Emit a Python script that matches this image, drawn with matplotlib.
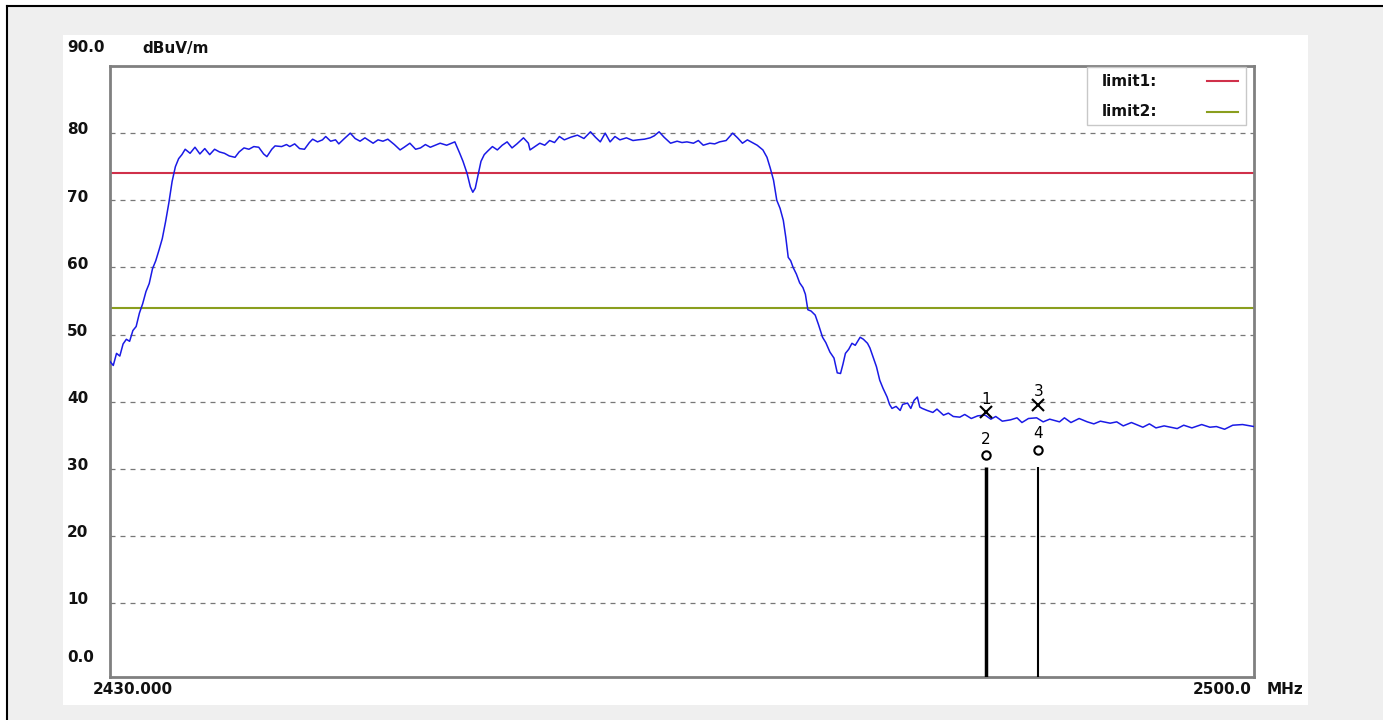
import numpy as np
import matplotlib.pyplot as plt
from matplotlib.patches import Rectangle
from matplotlib.lines import Line2D


W, H = 1383, 720

# trace (MHz, dBuV/m)
FREQ = [
    2430.0, 2430.2, 2430.4, 2430.6, 2430.8, 2431.0, 2431.2, 2431.4, 2431.6, 2431.8,
    2432.0, 2432.2, 2432.4, 2432.6, 2432.8, 2433.0, 2433.2, 2433.4, 2433.6, 2433.8,
    2434.0, 2434.2, 2434.4, 2434.6, 2434.9, 2435.2, 2435.5, 2435.8, 2436.1, 2436.4,
    2436.7, 2437.0, 2437.3, 2437.65, 2437.9, 2438.2, 2438.5, 2438.8, 2439.1, 2439.4,
    2439.6, 2439.9, 2440.1, 2440.5, 2440.8, 2441.0, 2441.3, 2441.6, 2441.9, 2442.2,
    2442.4, 2442.7, 2443.0, 2443.2, 2443.5, 2443.8, 2444.0, 2444.3, 2444.7, 2445.0,
    2445.3, 2445.6, 2446.1, 2446.4, 2446.7, 2447.0, 2447.4, 2447.75, 2448.0, 2448.35,
    2448.7, 2449.0, 2449.3, 2449.6, 2450.2, 2450.6, 2451.1, 2451.4, 2451.6, 2451.85,
    2452.05, 2452.2, 2452.35, 2452.5, 2452.7, 2452.9, 2453.1, 2453.4, 2453.7, 2454.0,
    2454.3, 2454.6, 2454.9, 2455.3, 2455.6, 2455.7, 2456.0, 2456.3, 2456.6, 2456.9,
    2457.2, 2457.5, 2457.8, 2458.2, 2458.6, 2459.0, 2459.4, 2459.7, 2460.0, 2460.3,
    2460.6, 2460.9, 2461.2, 2461.6, 2462.0, 2462.3, 2462.7, 2463.05, 2463.3, 2463.6,
    2463.9, 2464.3, 2464.7, 2465.0, 2465.3, 2465.7, 2466.0, 2466.3, 2466.7, 2467.0,
    2467.3, 2467.7, 2468.1, 2468.4, 2468.7, 2469.0, 2469.3, 2469.6, 2469.95, 2470.2,
    2470.4, 2470.6, 2470.8, 2471.0, 2471.2, 2471.35, 2471.5, 2471.65, 2471.8, 2472.0,
    2472.2, 2472.4, 2472.55, 2472.7, 2472.9, 2473.15, 2473.35, 2473.6, 2473.8, 2474.05,
    2474.3, 2474.5, 2474.7, 2474.85, 2475.0, 2475.2, 2475.4, 2475.6, 2475.9, 2476.1,
    2476.35, 2476.5, 2476.7, 2476.9, 2477.1, 2477.3, 2477.55, 2477.7, 2477.85, 2478.1,
    2478.35, 2478.5, 2478.8, 2479.0, 2479.2, 2479.4, 2479.55, 2479.7, 2480.0, 2480.35,
    2480.6, 2481.0, 2481.3, 2481.6, 2482.0, 2482.3, 2482.7, 2483.1, 2483.55, 2483.9,
    2484.2, 2484.6, 2485.1, 2485.5, 2485.8, 2486.2, 2486.7, 2487.1, 2487.5, 2488.1,
    2488.4, 2488.8, 2489.3, 2489.8, 2490.2, 2490.6, 2491.2, 2491.6, 2492.0, 2492.5,
    2493.2, 2493.6, 2494.0, 2494.5, 2495.3, 2495.7, 2496.2, 2496.8, 2497.3, 2497.7,
    2498.2, 2498.7, 2499.3, 2500.0,
]
LEVEL = [
    46.0, 45.4, 47.2, 46.8, 48.6, 49.3, 49.0, 50.6, 51.2, 53.2,
    54.6, 56.4, 57.6, 59.8, 61.0, 62.6, 64.3, 66.8, 69.6, 72.8,
    75.0, 76.2, 76.8, 77.6, 77.0, 77.9, 76.9, 77.7, 76.8, 77.6,
    77.2, 77.0, 76.6, 76.4, 77.2, 77.8, 77.6, 78.0, 77.9, 76.9,
    76.5, 77.6, 78.1, 78.0, 78.3, 78.0, 78.4, 77.7, 77.6, 78.6,
    79.1, 78.7, 79.0, 79.5, 78.8, 79.0, 78.4, 79.1, 80.0, 79.2,
    78.8, 79.3, 78.5, 79.0, 78.8, 79.1, 78.3, 77.5, 77.9, 78.5,
    77.6, 77.8, 78.3, 77.9, 78.5, 78.2, 78.7, 77.0, 75.8, 74.0,
    72.0, 71.2, 71.8, 73.5, 75.8, 76.8, 77.3, 78.0, 77.5, 78.2,
    78.7, 77.8, 78.4, 79.3, 78.5, 77.5, 78.0, 78.5, 78.2, 78.9,
    78.6, 79.5, 79.0, 79.4, 79.7, 79.2, 80.2, 79.4, 78.7, 80.0,
    78.7, 79.5, 79.0, 79.3, 78.9, 79.0, 79.1, 79.3, 79.6, 80.2,
    79.4, 78.5, 78.8, 78.6, 78.7, 78.5, 78.9, 78.2, 78.5, 78.4,
    78.7, 78.9, 80.0, 79.3, 78.5, 79.0, 78.6, 78.2, 77.5, 76.4,
    74.8, 73.0, 70.0, 68.8, 67.0, 64.5, 61.5, 61.0, 60.0, 59.0,
    57.7, 57.0, 56.0, 53.7, 53.5, 52.9, 51.5, 49.6, 48.8, 47.4,
    46.5, 44.3, 44.2, 45.6, 47.2, 47.8, 48.7, 48.4, 49.6, 49.3,
    48.7, 48.0, 46.6, 45.2, 43.2, 42.0, 40.7, 39.6, 39.0, 39.3,
    38.7, 39.6, 39.8, 39.0, 40.2, 40.7, 39.2, 39.0, 38.7, 38.4,
    38.9, 38.0, 38.3, 37.8, 37.7, 38.1, 37.5, 37.9, 38.0, 37.4,
    37.8, 37.1, 37.3, 37.6, 36.9, 37.5, 37.6, 37.0, 37.4, 37.0,
    37.6, 36.9, 37.5, 37.0, 36.7, 37.1, 36.8, 37.0, 36.4, 36.9,
    36.2, 36.7, 36.1, 36.4, 36.0, 36.5, 36.1, 36.6, 36.2, 36.3,
    35.9, 36.5, 36.6, 36.3,
]

LIMIT1 = 74.0
LIMIT2 = 54.0
YTICKS = [10, 20, 30, 40, 50, 60, 70, 80]

MARKER_FREQ = [2483.6, 2486.8]
MARKER_PEAK = [38.4, 39.5]
MARKER_AVG = [32.0, 32.8]
MARKER_TOP = [30.3, 30.3]
MARKER_NAMES = [("1", "2"), ("3", "4")]

BLUE = '#1a1ae6'
RED = '#d0304a'
OLIVE = '#8a9e1e'
FRAME = '#808080'


def fx(px):
    return px / W


def fy(py):
    return 1 - py / H


fig = plt.figure(figsize=(W / 100, H / 100), dpi=100)
fig.patch.set_facecolor('white')

# grey page behind the white chart panel, with the black cell border
fig.patches.append(Rectangle((fx(7), 0), 1 - fx(7), fy(6), transform=fig.transFigure,
                             facecolor='#efefef', edgecolor='none', zorder=-2))
fig.patches.append(Rectangle((fx(63), fy(705)), fx(1308 - 63), (705 - 35) / H,
                             transform=fig.transFigure, facecolor='white',
                             edgecolor='none', zorder=-1))
fig.lines.append(Line2D([fx(7), fx(7)], [0, fy(6)], transform=fig.transFigure,
                        color='black', lw=1.5))
fig.lines.append(Line2D([fx(7), 1], [fy(6), fy(6)], transform=fig.transFigure,
                        color='black', lw=1.5))

ax = fig.add_axes([fx(110), fy(677), fx(1254 - 110), (677 - 66) / H])
ax.set_zorder(2)
ax.set_facecolor('white')
ax.set_xlim(2430, 2500)
ax.set_ylim(-1, 90)
ax.set_xticks([])
ax.set_yticks([])
for s in ax.spines.values():
    s.set_color(FRAME)
    s.set_linewidth(2)

for v in YTICKS:
    ax.axhline(v, color='#777777', ls=(0, (4, 4)), lw=0.9, zorder=1)

ax.axhline(LIMIT1, color=RED, lw=1.5, zorder=2)
ax.axhline(LIMIT2, color=OLIVE, lw=1.5, zorder=2)

ax.plot(FREQ, LEVEL, color=BLUE, lw=1.1, zorder=3)

# markers
for i, f in enumerate(MARKER_FREQ):
    ax.vlines(f, -1, MARKER_TOP[i], color='black', lw=2.5 if i == 0 else 1.5, zorder=4)
    ax.plot(f, MARKER_PEAK[i], marker='x', color='black', ms=8, mew=1.5, zorder=5)
    ax.text(f, MARKER_PEAK[i] + 2.0, MARKER_NAMES[i][0], ha='center', va='center',
            fontsize=11, zorder=5)
    ax.text(f, MARKER_AVG[i] + 2.4, MARKER_NAMES[i][1], ha='center', va='center',
            fontsize=11, zorder=5)
    ax.plot(f, MARKER_AVG[i], marker='o', mfc='white', mec='black', ms=6, mew=1.5,
            zorder=5)

lab = dict(fontsize=11, fontweight='bold', family='DejaVu Sans', color='#111111')

# y labels, left aligned like the analyzer software
for v in YTICKS:
    fig.text(fx(67), fy(670 - v * 6.714 - 3), str(v), va='center', ha='left', **lab)
fig.text(fx(67), fy(48), '90.0', va='center', ha='left', **lab)
fig.text(fx(67), fy(658), '0.0', va='center', ha='left', **lab)
fig.text(fx(142), fy(48), 'dBuV/m', va='center', ha='left', **lab)
fig.text(fx(93), fy(690), '2430.000', va='center', ha='left', **lab)
fig.text(fx(1193), fy(690), '2500.0', va='center', ha='left', **lab)
fig.text(fx(1267), fy(690), 'MHz', va='center', ha='left', **lab)

# legend box, inside the plot frame
leg = Rectangle((fx(1087), fy(125)), fx(1246 - 1087), (125 - 67) / H,
                transform=fig.transFigure, facecolor='white', edgecolor='#c8c8c8', lw=1)
leg.set_zorder(6)
fig.add_artist(leg)
fig.text(fx(1102), fy(81), 'limit1:', va='center', ha='left', zorder=7, **lab)
fig.text(fx(1102), fy(111), 'limit2:', va='center', ha='left', zorder=7, **lab)
fig.add_artist(Line2D([fx(1207), fx(1238)], [fy(81), fy(81)], transform=fig.transFigure,
                      color=RED, lw=1.5, zorder=7))
fig.add_artist(Line2D([fx(1207), fx(1238)], [fy(112), fy(112)], transform=fig.transFigure,
                      color=OLIVE, lw=1.5, zorder=7))

fig.savefig('out.png', dpi=100)
